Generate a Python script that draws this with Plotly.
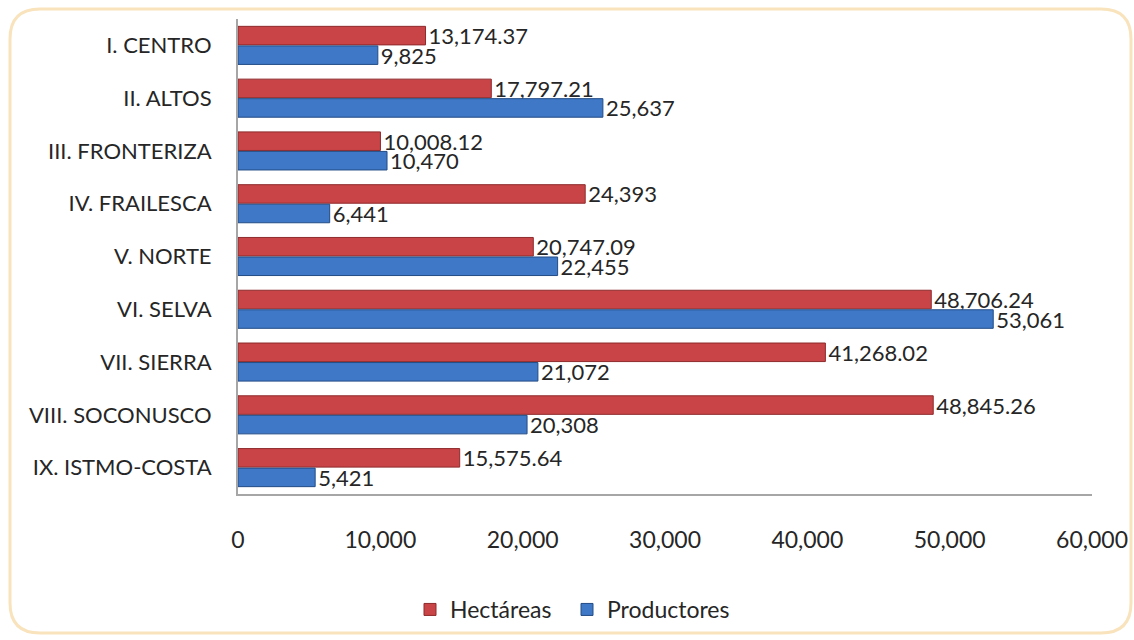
import plotly.graph_objects as go

categories = ["I. CENTRO", "II. ALTOS", "III. FRONTERIZA", "IV. FRAILESCA", "V. NORTE",
              "VI. SELVA", "VII. SIERRA", "VIII. SOCONUSCO", "IX. ISTMO-COSTA"]
hectareas = [13174.37, 17797.21, 10008.12, 24393, 20747.09, 48706.24, 41268.02, 48845.26, 15575.64]
productores = [9825, 25637, 10470, 6441, 22455, 53061, 21072, 20308, 5421]
x_ticks = [0, 10000, 20000, 30000, 40000, 50000, 60000]


def fmt(v):
    return f"{v:,.0f}" if float(v).is_integer() else f"{v:,.2f}"


FONT = "Lato, Carlito, 'Open Sans', sans-serif"
TXT = "#262626"

fig = go.Figure()
fig.add_trace(go.Bar(
    name="Hectáreas", y=categories, x=hectareas, orientation="h", legend="legend",
    marker=dict(color="#C94446", line=dict(color="#8E2A2C", width=1)),
    text=[fmt(v) for v in hectareas], textposition="outside", constraintext="none",
    textfont=dict(size=22, color=TXT, family=FONT), cliponaxis=False,
))
fig.add_trace(go.Bar(
    name="Productores", y=categories, x=productores, orientation="h", legend="legend2",
    marker=dict(color="#3E78C6", line=dict(color="#234C86", width=1)),
    text=[fmt(v) for v in productores], textposition="outside", constraintext="none",
    textfont=dict(size=22, color=TXT, family=FONT), cliponaxis=False,
))

# frame (rounded rectangle) in paper coordinates
L, R, T, B = 238, 1092, 19, 494
W, H = R - L, B - T
def px(x): return (x - L) / W
def py(y): return (B - y) / H
x0, x1, y0, y1 = 10, 1131, 9, 633
r = 30
path = (f"M {px(x0+r)},{py(y0)} L {px(x1-r)},{py(y0)} Q {px(x1)},{py(y0)} {px(x1)},{py(y0+r)} "
        f"L {px(x1)},{py(y1-r)} Q {px(x1)},{py(y1)} {px(x1-r)},{py(y1)} "
        f"L {px(x0+r)},{py(y1)} Q {px(x0)},{py(y1)} {px(x0)},{py(y1-r)} "
        f"L {px(x0)},{py(y0+r)} Q {px(x0)},{py(y0)} {px(x0+r)},{py(y0)} Z")

leg_common = dict(orientation="h", xanchor="left", y=py(588), yanchor="top",
                  font=dict(size=23, color=TXT), itemwidth=30, bgcolor="rgba(0,0,0,0)")

fig.update_layout(
    width=1134, height=640,
    margin=dict(l=L, r=1134 - R, t=T, b=640 - B, autoexpand=False),
    paper_bgcolor="white", plot_bgcolor="white",
    barmode="group", bargap=0.26, bargroupgap=0.05,
    font=dict(family=FONT, size=22, color=TXT),
    showlegend=True,
    legend=dict(x=px(410), **leg_common),
    legend2=dict(x=px(567), **leg_common),
    shapes=[dict(type="path", xref="paper", yref="paper", path=path,
                 line=dict(color="#F8E3BC", width=3), fillcolor="rgba(0,0,0,0)", layer="below")],
    xaxis=dict(range=[0, 60000], tickvals=x_ticks, tickformat=",d", showgrid=False,
               showline=True, linecolor="#A6A6A6", linewidth=2, ticks="", zeroline=False,
               ticklabelstandoff=24, tickfont=dict(size=23, color=TXT)),
    yaxis=dict(autorange="reversed", showgrid=False, showline=True, linecolor="#A6A6A6",
               linewidth=2, ticks="", ticklabelstandoff=20, tickfont=dict(size=22, color=TXT)),
)

fig.write_html("out.html", config={"displayModeBar": False},
               post_script="document.body.style.margin='0';")
